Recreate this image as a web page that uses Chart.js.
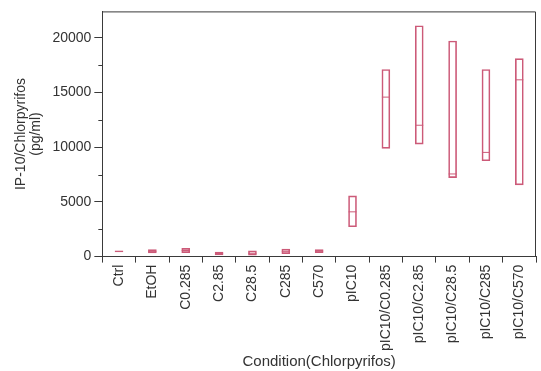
<!DOCTYPE html>
<html><head><meta charset="utf-8">
<script src="https://cdn.jsdelivr.net/npm/chart.js@4/dist/chart.umd.min.js"></script>
<style>html,body{margin:0;padding:0;background:#fff}#wrap{width:541px;height:371px}</style>
</head><body><div id="wrap"><canvas id="c"></canvas></div>
<script>
const categories = ['Ctrl','EtOH','C0.285','C2.85','C28.5','C285','C570','pIC10','pIC10/C0.285','pIC10/C2.85','pIC10/C28.5','pIC10/C285','pIC10/C570'];
const lows    = [420, 340, 360, 150, 120, 270, 360, 2730, 9880, 10270, 7210, 8760, 6550];
const highs   = [520, 640, 750, 420, 520, 680, 640, 5550, 17090, 21090, 19700, 17090, 18090];
const medians = [470, 480, 560, 280, 300, 480, 500, 4090, 14570, 12000, 7550, 9520, 16150];
const yMajorTicks = [0, 5000, 10000, 15000, 20000];
const yMinorTicks = [2500, 7500, 12500, 17500];

const boxColor = '#cc5a78';
const axisColor = '#3a3a3a';
const font = {family: '"Liberation Sans", Arial, sans-serif', size: 14};

const framePlugin = {
  id: 'frame',
  afterDraw(chart) {
    const {ctx, chartArea: a, scales} = chart;
    ctx.save();
    ctx.strokeStyle = axisColor;
    ctx.lineWidth = 1;
    ctx.beginPath();
    ctx.moveTo(a.left, a.top + 0.5); ctx.lineTo(a.right - 0.5, a.top + 0.5);
    ctx.lineTo(a.right - 0.5, a.bottom);
    ctx.stroke();
    const y = scales.y;
    ctx.beginPath();
    yMinorTicks.forEach(v => {
      const p = Math.round(y.getPixelForValue(v)) + 0.5;
      ctx.moveTo(a.left - 4, p); ctx.lineTo(a.left, p);
    });
    ctx.stroke();
    ctx.restore();
  }
};

new Chart(document.getElementById('c'), {
  data: {
    labels: categories,
    datasets: [
      {
        type: 'bar',
        data: lows.map((l, i) => [l, highs[i]]),
        backgroundColor: 'rgba(255,255,255,0)',
        borderColor: boxColor,
        borderWidth: 1,
        borderSkipped: false,
        barThickness: 8
      },
      {
        type: 'line',
        data: medians,
        showLine: false,
        pointStyle: 'line',
        pointRadius: 4,
        pointHoverRadius: 4,
        borderColor: boxColor,
        pointBorderColor: boxColor,
        pointBorderWidth: 1
      }
    ]
  },
  options: {
    responsive: true,
    maintainAspectRatio: false,
    animation: false,
    layout: {padding: {top: 10, right: 1, left: 14, bottom: 0}},
    plugins: {legend: {display: false}, tooltip: {enabled: false}},
    scales: {
      x: {
        offset: true,
        grid: {offset: true, drawOnChartArea: false, drawTicks: true, tickLength: 6, color: axisColor},
        border: {color: axisColor},
        ticks: {color: '#333', font, minRotation: 90, maxRotation: 90, autoSkip: false, padding: 2},
        title: {display: true, text: 'Condition(Chlorpyrifos)', color: '#333', font: {family: font.family, size: 15}, padding: {top: 0, bottom: 0}}
      },
      y: {
        min: 0, max: 22400,
        afterBuildTicks(scale) { scale.ticks = yMajorTicks.map(v => ({value: v})); },
        grid: {drawOnChartArea: false, drawTicks: true, tickLength: 8, color: axisColor},
        border: {color: axisColor},
        ticks: {color: '#333', font, padding: 3, callback: v => String(v)},
        title: {display: true, text: ['IP-10/Chlorpyrifos', '(pg/ml)'], color: '#333', font: {family: font.family, size: 14, lineHeight: 1.05}, padding: {top: 0, bottom: 6}}
      }
    }
  },
  plugins: [framePlugin]
});
</script></body></html>
